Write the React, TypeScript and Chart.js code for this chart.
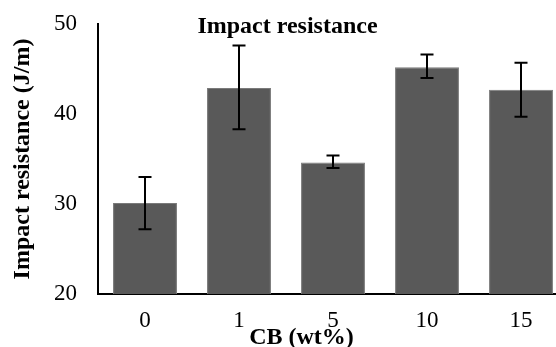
import React, { useEffect, useRef } from "react";
import { Chart, registerables } from "chart.js";

Chart.register(...registerables);

const categories = ["0", "1", "5", "10", "15"];
const values = [30.1, 42.9, 34.6, 45.2, 42.7];
const errLow = [27.2, 38.3, 34.0, 44.0, 39.7];
const errHigh = [33.0, 47.6, 35.4, 46.6, 45.7];
const yTicks = [20, 30, 40, 50];
const chartTitle = "Impact resistance";
const xTitle = "CB (wt%)";
const yTitle = "Impact resistance (J/m)";

const FONT = "'Liberation Serif', 'Times New Roman', serif";

const errorBarPlugin = {
  id: "errorBars",
  afterDatasetsDraw(chart: any) {
    const ctx = chart.ctx;
    const meta = chart.getDatasetMeta(0);
    const y = chart.scales.y;
    ctx.save();
    ctx.strokeStyle = "#000";
    ctx.lineWidth = 2;
    meta.data.forEach((bar: any, i: number) => {
      const x = bar.x;
      const yl = y.getPixelForValue(errLow[i]);
      const yh = y.getPixelForValue(errHigh[i]);
      ctx.beginPath();
      ctx.moveTo(x, yl);
      ctx.lineTo(x, yh);
      ctx.moveTo(x - 6.5, yl);
      ctx.lineTo(x + 6.5, yl);
      ctx.moveTo(x - 6.5, yh);
      ctx.lineTo(x + 6.5, yh);
      ctx.stroke();
    });
    ctx.restore();
  },
};

const titlesPlugin = {
  id: "customTitles",
  afterDraw(chart: any) {
    const ctx = chart.ctx;
    ctx.save();
    ctx.fillStyle = "#000";
    ctx.font = `bold 24px ${FONT}`;
    ctx.textAlign = "center";
    ctx.textBaseline = "alphabetic";
    ctx.fillText(chartTitle, 287.5, 33);
    ctx.fillText(xTitle, 301.5, 344);
    ctx.translate(29, 159);
    ctx.rotate(-Math.PI / 2);
    ctx.fillText(yTitle, 0, 0);
    ctx.restore();
  },
};

export default function App() {
  const ref = useRef<HTMLCanvasElement>(null);
  useEffect(() => {
    if (!ref.current) return;
    const chart = new Chart(ref.current, {
      type: "bar",
      data: {
        labels: categories,
        datasets: [
          {
            data: values,
            backgroundColor: "#595959",
            borderColor: "#7a7a7a",
            borderWidth: 1,
            categoryPercentage: 1,
            barPercentage: 0.68,
          },
        ],
      },
      options: {
        responsive: false,
        animation: false,
        layout: { padding: { top: 24, right: 2, left: 0, bottom: 0 } },
        plugins: {
          legend: { display: false },
          title: { display: false },
          tooltip: { enabled: false },
        },
        scales: {
          x: {
            grid: { display: false, drawTicks: false },
            border: { display: true, color: "#000", width: 2 },
            ticks: { color: "#000", font: { family: FONT, size: 23 }, padding: 13 },
            afterFit(scale: any) {
              scale.height = 53;
              scale.paddingLeft = 0;
              scale.paddingRight = 0;
            },
          },
          y: {
            min: 20,
            max: 50,
            grid: { display: false, drawTicks: false },
            border: { display: true, color: "#000", width: 2 },
            afterBuildTicks(scale: any) {
              scale.ticks = yTicks.map((v) => ({ value: v }));
            },
            ticks: { color: "#000", font: { family: FONT, size: 23 }, padding: 21 },
            afterFit(scale: any) {
              scale.width = 98;
              scale.paddingTop = 0;
              scale.paddingBottom = 0;
            },
          },
        },
      },
      plugins: [errorBarPlugin, titlesPlugin],
    });
    return () => chart.destroy();
  }, []);
  return (
    <div style={{ position: "absolute", left: 0, top: 0, width: 556, height: 347, overflow: "hidden", background: "#fff" }}>
      <canvas ref={ref} width={570} height={347} style={{ display: "block" }} />
    </div>
  );
}
